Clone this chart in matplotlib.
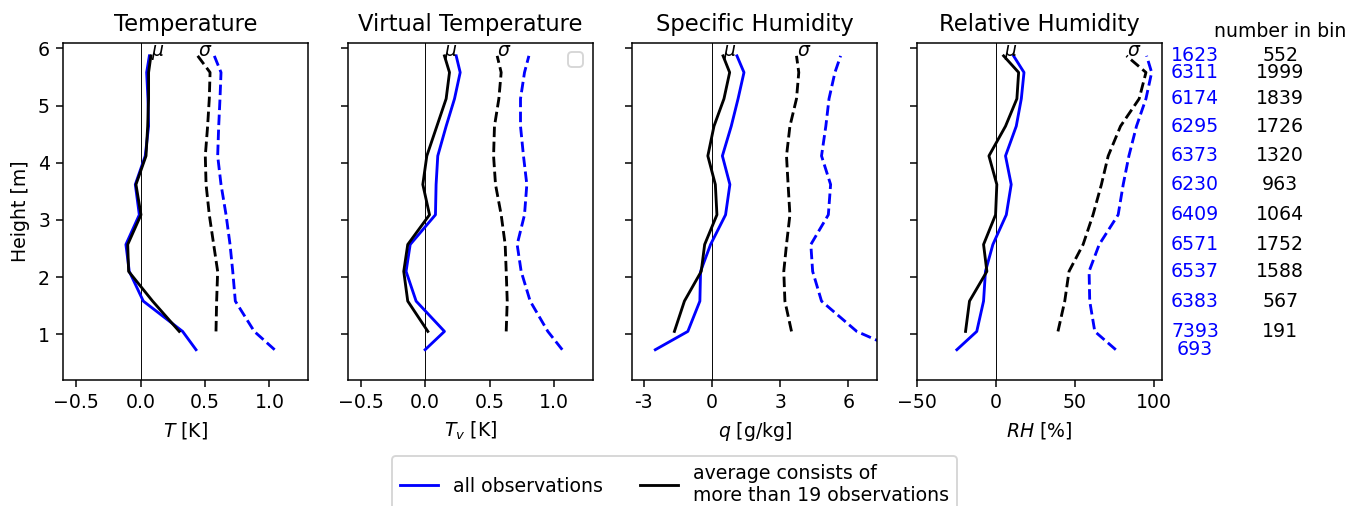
import numpy as np
import matplotlib
matplotlib.use('Agg')
import matplotlib.pyplot as plt
import matplotlib.transforms as mtransforms
from matplotlib.legend import Legend

# mean heights of the bins [m], bottom to top
height_all = [0.73, 1.05, 1.58, 2.10, 2.57, 3.09, 3.62, 4.12, 4.64, 5.12, 5.58, 5.87]
height_sel = height_all[1:]

# all observations (blue): mean and std
T_mean_all = [0.43, 0.326, 0.021, -0.088, -0.114, -0.010, -0.041, 0.036, 0.062, 0.057, 0.047, 0.068]
T_std_all = [1.04, 0.882, 0.735, 0.715, 0.694, 0.663, 0.624, 0.598, 0.606, 0.616, 0.624, 0.572]
Tv_mean_all = [0.0, 0.15, -0.07, -0.148, -0.116, 0.080, 0.085, 0.098, 0.163, 0.228, 0.272, 0.241]
Tv_std_all = [1.064, 0.952, 0.815, 0.745, 0.714, 0.771, 0.789, 0.763, 0.74, 0.74, 0.771, 0.805]
q_mean_all = [-2.49, -1.06, -0.53, -0.50, -0.06, 0.60, 0.79, 0.46, 0.85, 1.15, 1.41, 1.10]
q_std_all = [8.2, 6.37, 4.82, 4.43, 4.35, 5.12, 5.22, 4.82, 5.01, 5.15, 5.41, 5.66]
RH_mean_all = [-24.7, -12.1, -7.8, -6.6, -1.9, 6.6, 9.7, 6.1, 12.9, 16.1, 17.8, 11.2]
RH_std_all = [75.9, 62.6, 59.4, 59.0, 65.4, 77.4, 80.6, 84.2, 89.0, 95.0, 98.6, 95.4]

# average consists of more than 19 observations (black)
T_mean_sel = [0.30, 0.093, -0.093, -0.10, 0.003, -0.036, 0.042, 0.055, 0.062, 0.062, 0.080]
T_std_sel = [0.585, 0.59, 0.598, 0.567, 0.533, 0.508, 0.502, 0.52, 0.533, 0.539, 0.443]
Tv_mean_sel = [0.021, -0.135, -0.166, -0.135, 0.034, -0.018, 0.013, 0.091, 0.163, 0.189, 0.15]
Tv_std_sel = [0.629, 0.637, 0.629, 0.621, 0.59, 0.546, 0.531, 0.538, 0.572, 0.59, 0.559]
q_mean_sel = [-1.65, -1.21, -0.47, -0.32, 0.22, 0.15, -0.18, 0.09, 0.53, 0.78, 0.49]
q_std_sel = [3.5, 3.21, 3.16, 3.28, 3.43, 3.35, 3.28, 3.43, 3.72, 3.82, 3.72]
RH_mean_sel = [-19.2, -16.7, -5.7, -7.8, -0.2, 0.6, -4.4, 6.1, 13.3, 14.4, 4.9]
RH_std_sel = [39.3, 43.6, 46.3, 55.2, 61.5, 66.8, 71.1, 78.9, 90.7, 95.0, 82.7]

# number of observations per bin
n_all = [693, 7393, 6383, 6537, 6571, 6409, 6230, 6373, 6295, 6174, 6311, 1623]
n_sel = [191, 567, 1588, 1752, 1064, 963, 1320, 1726, 1839, 1999, 552]

titles = ['Temperature', 'Virtual Temperature', 'Specific Humidity', 'Relative Humidity']
xlabels = ['$T$ [K]', '$T_v$ [K]', '$q$ [g/kg]', '$RH$ [%]']
xlims = [(-0.6, 1.3), (-0.6, 1.3), (-3.5, 7.27), (-50, 105)]

means_all = [T_mean_all, Tv_mean_all, q_mean_all, RH_mean_all]
stds_all = [T_std_all, Tv_std_all, q_std_all, RH_std_all]
means_sel = [T_mean_sel, Tv_mean_sel, q_mean_sel, RH_mean_sel]
stds_sel = [T_std_sel, Tv_std_sel, q_std_sel, RH_std_sel]

dpi = 136
fig, axes = plt.subplots(1, 4, sharey=True, figsize=(1349 / dpi, 506 / dpi), dpi=dpi)
plt.subplots_adjust(left=0.0469, right=0.8612, top=0.9156, bottom=0.249, wspace=0.162)

for i, ax in enumerate(axes):
    ax.axvline(0, color='k', lw=0.5)
    l_all, = ax.plot(means_all[i], height_all, color='blue')
    ax.plot(stds_all[i], height_all, color='blue', linestyle='--')
    l_sel, = ax.plot(means_sel[i], height_sel, color='k')
    ax.plot(stds_sel[i], height_sel, color='k', linestyle='--')
    ax.text(means_sel[i][-1], height_sel[-1], r'$\mu$', fontsize=10)
    ax.text(stds_sel[i][-1], height_sel[-1], r'$\sigma$', fontsize=10)
    ax.set_title(titles[i], fontsize=12)
    ax.set_xlabel(xlabels[i])
    ax.set_xlim(xlims[i])

axes[0].set_ylim(0.2, 6.1)
axes[0].set_ylabel('Height [m]')
axes[2].set_xticks([-3, 0, 3, 6])
axes[2].set_xticklabels(['-3', '0', '3', '6'])
axes[3].set_xticks([-50, 0, 50, 100])

# empty legend box in the second panel
axes[1].add_artist(Legend(axes[1], [], [], loc='upper right'))

# counts per bin to the right of the last panel
trans = mtransforms.blended_transform_factory(axes[3].transAxes, axes[3].transData)
for h, n in zip(height_all, n_all):
    axes[3].text(1.136, h, str(n), color='blue', ha='center', va='center', transform=trans)
for h, n in zip(height_sel, n_sel):
    axes[3].text(1.484, h, str(n), color='k', ha='center', va='center', transform=trans)
axes[3].text(1.484, 6.29, 'number in bin', ha='center', va='center', transform=trans)

fig.legend(handles=[l_all, l_sel],
           labels=['all observations', 'average consists of\nmore than 19 observations'],
           loc='upper center', ncol=2, bbox_to_anchor=(0.5, 1 - 447 / 506))

plt.savefig('out.png', dpi=dpi)
